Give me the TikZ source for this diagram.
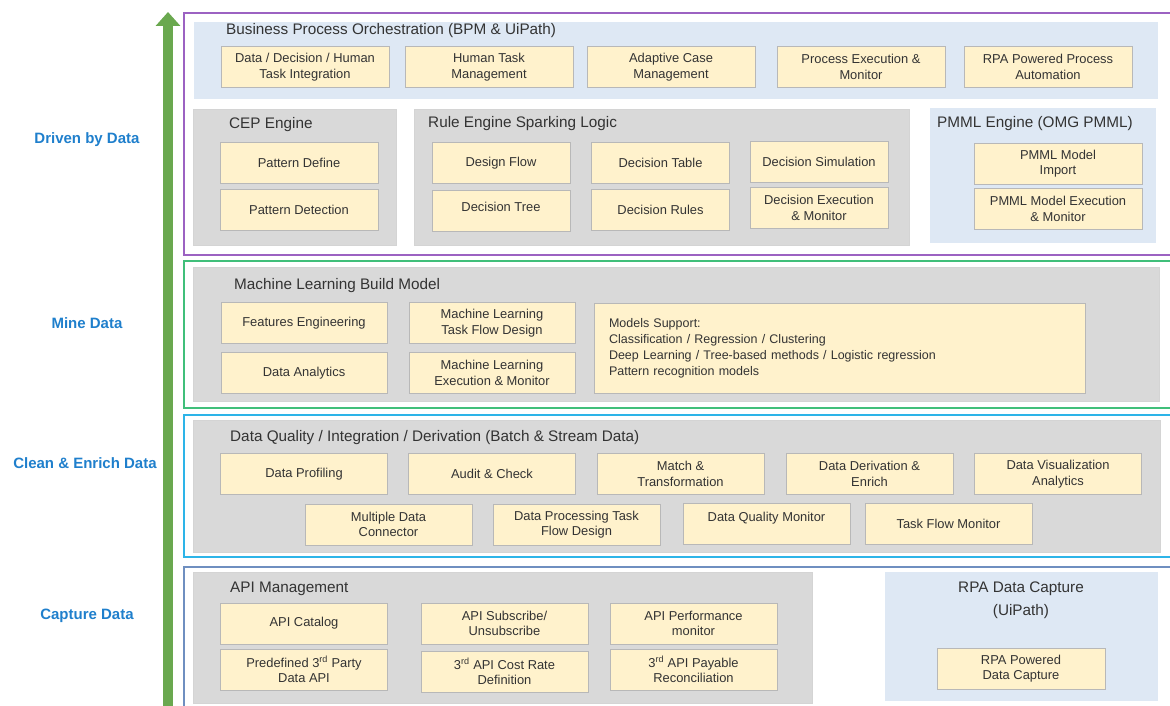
\documentclass[tikz,border=0pt]{standalone}
\usepackage{fontspec}
\setmainfont{Liberation Sans}
\usetikzlibrary{arrows.meta,positioning}
\definecolor{itemyellow}{HTML}{FFF2CC}
\definecolor{grpgray}{HTML}{D9D9D9}
\definecolor{grpblue}{HTML}{DEE8F4}
\definecolor{txtgray}{HTML}{333333}
\definecolor{sideblue}{HTML}{1F7FCC}
\definecolor{arrowgreen}{HTML}{6AA84F}
\definecolor{lpurple}{HTML}{9C62C2}
\definecolor{lgreen}{HTML}{40BF7A}
\definecolor{lcyan}{HTML}{2DB4E8}
\definecolor{lsteel}{HTML}{6F8FC0}

\begin{document}
\begin{tikzpicture}[x=1pt,y=-1pt,
			layer/.style={line width=1.8pt},
			grp/.style={draw=black!17,fill=grpgray,line width=0.6pt},
			bluegrp/.style={fill=grpblue},
			item/.style={draw=black!28,fill=itemyellow,line width=0.8pt,minimum width=#1,minimum height=41pt,inner sep=1pt,align=center,text=txtgray,font=\fontsize{12.9}{15.5}\selectfont},
			item/.default=167pt,
			gtitle/.style={anchor=west,inner sep=0pt,text=txtgray,font=\fontsize{15.3}{19}\selectfont},
			side/.style={text=sideblue,font=\fontsize{15}{18}\selectfont\bfseries},
			growth/.style={draw=arrowgreen,line width=10pt,-{Triangle[width=24pt,length=14pt]}}
			]
			\useasboundingbox (0,0) rectangle (1170,706);
			% layers
			\draw[layer,lpurple] (1170,13) -- (184,13) -- (184,255) -- (1170,255);
			\draw[layer,lgreen] (1170,261) -- (184,261) -- (184,408) -- (1170,408);
			\draw[layer,lcyan] (1170,415) -- (184,415) -- (184,557) -- (1170,557);
			\draw[layer,lsteel] (1170,567) -- (184,567) -- (184,706);
			% growth arrow and side labels
			\coordinate (abase) at (168,706);
			\coordinate (atip) at (168,12);
			\draw[growth] (abase) -- (atip);
			\node[side] (drv) at (87,140) {Driven by Data};
			\node[side] (mine) at (87,323) {Mine Data};
			\node[side] (clean) at (85,463) {Clean \& Enrich Data};
			\node[side] (capt) at (87,616) {Capture Data};
			% Driven by Data
			\fill[bluegrp] (194,22) rectangle (1158,99);
			\node[gtitle] (bpm) at (226,31) {Business Process Orchestration (BPM \& UiPath)};
			\node[item=168pt] (bpm1) at (305,67) {Data / Decision / Human\\Task Integration};
			\node[item=168pt] (bpm2) at (489,67) {Human Task\\Management};
			\node[item=168pt] (bpm3) at (671,67) {Adaptive Case\\Management};
			\node[item=168pt] (bpm4) at (861,67) {Process Execution \&\\Monitor};
			\node[item=168pt] (bpm5) at (1048,67) {RPA Powered Process\\Automation};
			\draw[grp] (193,109) rectangle (396,245);
			\node[gtitle] (cep) at (229,125) {CEP Engine};
			\node[item=158pt] (cep1) at (299,163) {Pattern Define};
			\node[item=158pt] (cep2) at (299,209.5) {Pattern Detection};
			\draw[grp] (414,109) rectangle (909,245);
			\node[gtitle] (rule) at (428,124) {Rule Engine Sparking Logic};
			\node[item=138pt] (rul1) at (501,163) {Design Flow};
			\node[item=138pt,text depth=9pt] (rul2) at (501,211) {Decision Tree};
			\node[item=138pt] (rul3) at (660.5,163) {Decision Table};
			\node[item=138pt] (rul4) at (660.5,209.5) {Decision Rules};
			\node[item=138pt] (rul5) at (819,162) {Decision Simulation};
			\node[item=138pt] (rul6) at (819,208) {Decision Execution\\\& Monitor};
			\fill[bluegrp] (930,108) rectangle (1156,243);
			\node[gtitle] (pmml) at (937,124) {PMML Engine (OMG PMML)};
			\node[item=168pt] (pm1) at (1058,163.5) {PMML Model\\Import};
			\node[item=168pt] (pm2) at (1058,209) {PMML Model Execution\\\& Monitor};
			% Mine Data
			\draw[grp] (193,267) rectangle (1159,401);
			\node[gtitle] (ml) at (234,286) {Machine Learning Build Model};
			\node[item=166pt] (ml1) at (304,323) {Features Engineering};
			\node[item=166pt] (ml2) at (304,373) {Data Analytics};
			\node[item=166pt] (ml3) at (492,323) {Machine Learning\\Task Flow Design};
			\node[item=491pt,minimum height=90pt,text width=461pt,align=left,font=\fontsize{12.5}{16}\selectfont] (ml5) at (839.5,348) {Models Support:\\Classification / Regression / Clustering\\Deep Learning / Tree-based methods / Logistic regression\\Pattern recognition models\\[12pt]};
			\node[item=166pt] (ml4) at (492,373) {Machine Learning\\Execution \& Monitor};
			% Clean & Enrich Data
			\draw[grp] (193,420) rectangle (1160,552);
			\node[gtitle] (dq) at (230,438) {Data Quality / Integration / Derivation (Batch \& Stream Data)};
			\node[item] (dq1) at (304,474) {Data Profiling};
			\node[item] (dq2) at (492,474) {Audit \& Check};
			\node[item] (dq3) at (680.5,474) {Match \&\\Transformation};
			\node[item] (dq4) at (869.5,474) {Data Derivation \&\\Enrich};
			\node[item] (dq5) at (1058,474) {Data Visualization\\Analytics};
			\node[item] (dq6) at (388.5,524.5) {Multiple Data\\Connector};
			\node[item] (dq7) at (576.5,524.5) {Data Processing Task\\Flow Design};
			\node[item,text depth=13.5pt] (dq8) at (766.5,523.5) {Data Quality Monitor};
			\node[item] (dq9) at (948.5,524) {Task Flow Monitor};
			% Capture Data
			\draw[grp] (193,572) rectangle (812,703);
			\node[gtitle] (api) at (230,589) {API Management};
			\node[item] (api1) at (304,623.5) {API Catalog};
			\node[item] (api2) at (304,669.5) {Predefined 3\textsuperscript{rd} Party\\Data API};
			\node[item] (api3) at (504.5,623.5) {API Subscribe/\\Unsubscribe};
			\node[item] (api4) at (504.5,671.5) {3\textsuperscript{rd} API Cost Rate\\Definition};
			\node[item] (api5) at (693.5,623.5) {API Performance\\monitor};
			\node[item] (api6) at (693.5,669.5) {3\textsuperscript{rd} API Payable\\Reconciliation};
			\fill[bluegrp] (885,572) rectangle (1158,701);
			\node[gtitle,anchor=center,align=center,font=\fontsize{15.3}{23}\selectfont] (rpa) at (1021,600.5) {RPA Data Capture\\(UiPath)};
			\node[item=168pt] (rpa1) at (1021,668.5) {RPA Powered\\Data Capture};
		\end{tikzpicture}
\end{document}
